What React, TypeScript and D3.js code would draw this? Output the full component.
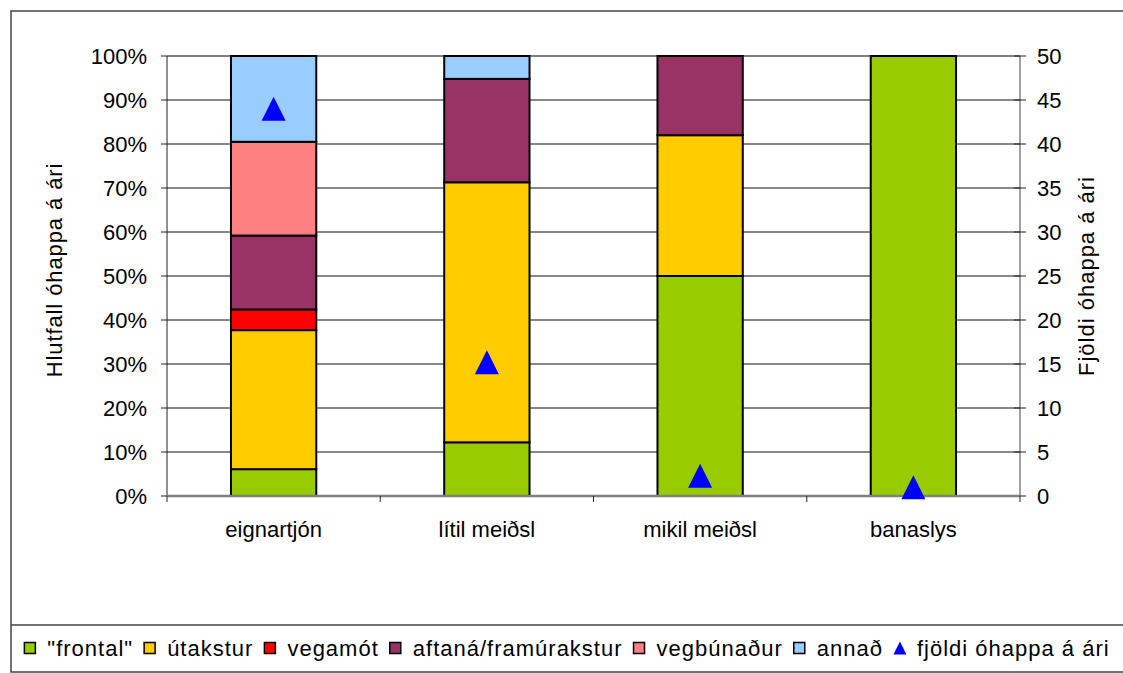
import React, { useRef, useEffect } from 'react';
import { select, scaleLinear, scaleBand, stack, symbol } from 'd3';

const categories = ['eignartjón', 'lítil meiðsl', 'mikil meiðsl', 'banaslys'];
const seriesNames = ['"frontal"', 'útakstur', 'vegamót', 'aftaná/framúrakstur', 'vegbúnaður', 'annað'];
const seriesColors = ['#99CC00', '#FFCC00', '#FF0000', '#993366', '#FF8080', '#99CCFF'];

// percentages per category
const frontal = [6.1, 12.2, 50, 100];
const utakstur = [31.6, 59.1, 32, 0];
const vegamot = [4.7, 0, 0, 0];
const aftana = [16.8, 23.5, 18, 0];
const vegbunadur = [21.3, 0, 0, 0];
const annad = [19.5, 5.2, 0, 0];

// count per year, right axis
const countName = 'fjöldi óhappa á ári';
const fjoldi = [44, 15.2, 2.3, 1];

const pctTicks = [0, 10, 20, 30, 40, 50, 60, 70, 80, 90, 100];
const countTicks = [0, 5, 10, 15, 20, 25, 30, 35, 40, 45, 50];

const leftTitle = 'Hlutfall óhappa á ári';
const rightTitle = 'Fjöldi óhappa á ári';

const FONT = '"Liberation Sans", Arial, sans-serif';

// triangle, as wide as it is tall
const triangleUp = {
  draw(ctx, size) {
    const w = Math.sqrt(size);
    ctx.moveTo(0, -w / 2);
    ctx.lineTo(w / 2, w / 2);
    ctx.lineTo(-w / 2, w / 2);
    ctx.closePath();
  }
};

const App = () => {
  const ref = useRef<SVGSVGElement>(null);

  const width = 1123;
  const height = 673;
  const plot = { left: 167, right: 1020, top: 56, bottom: 496 };

  useEffect(() => {
    const svg = select(ref.current);
    svg.selectAll('*').remove();

    const seriesValues = [frontal, utakstur, vegamot, aftana, vegbunadur, annad];
    const rows = categories.map((c, i) => {
      const r: any = { cat: c };
      seriesNames.forEach((s, j) => (r[s] = seriesValues[j][i]));
      return r;
    });
    const stacked = stack().keys(seriesNames)(rows);

    const xScale = scaleBand()
      .domain(categories)
      .range([plot.left, plot.right])
      .paddingInner(0.6)
      .paddingOuter(0.3);
    const yPct = scaleLinear().domain([0, 100]).range([plot.bottom, plot.top]);
    const yCnt = scaleLinear().domain([0, 50]).range([plot.bottom, plot.top]);

    // frame
    svg.append('rect')
      .attr('x', 11).attr('y', 11)
      .attr('width', 1130).attr('height', 661)
      .attr('fill', 'none').attr('stroke', '#444').attr('stroke-width', 1.5);
    svg.append('line')
      .attr('x1', 11).attr('x2', 1130).attr('y1', 625).attr('y2', 625)
      .attr('stroke', '#444').attr('stroke-width', 1.5);

    // gridlines
    svg.append('g').selectAll('line')
      .data(pctTicks.filter(t => t > 0))
      .enter().append('line')
      .attr('x1', plot.left).attr('x2', plot.right)
      .attr('y1', d => yPct(d)).attr('y2', d => yPct(d))
      .attr('stroke', d => (d === 100 ? '#808080' : '#111'))
      .attr('stroke-width', d => (d === 100 ? 2 : 1));

    // left axis
    svg.append('line')
      .attr('x1', plot.left).attr('x2', plot.left)
      .attr('y1', plot.top).attr('y2', plot.bottom)
      .attr('stroke', '#222');
    const gl = svg.append('g');
    gl.selectAll('line').data(pctTicks).enter().append('line')
      .attr('x1', plot.left - 6).attr('x2', plot.left)
      .attr('y1', d => yPct(d)).attr('y2', d => yPct(d))
      .attr('stroke', '#222');
    gl.selectAll('text').data(pctTicks).enter().append('text')
      .attr('x', 147).attr('y', d => yPct(d))
      .attr('dy', '0.35em')
      .attr('text-anchor', 'end')
      .style('font', `22px ${FONT}`)
      .text(d => `${d}%`);

    // right axis
    svg.append('line')
      .attr('x1', plot.right).attr('x2', plot.right)
      .attr('y1', plot.top).attr('y2', plot.bottom)
      .attr('stroke', '#444');
    const gr = svg.append('g');
    gr.selectAll('line').data(countTicks).enter().append('line')
      .attr('x1', plot.right - 6).attr('x2', plot.right + 6)
      .attr('y1', d => yCnt(d)).attr('y2', d => yCnt(d))
      .attr('stroke', '#222');
    gr.selectAll('text').data(countTicks).enter().append('text')
      .attr('x', 1037).attr('y', d => yCnt(d))
      .attr('dy', '0.35em')
      .style('font', `22px ${FONT}`)
      .text(d => d);

    // bars
    const gb = svg.append('g');
    stacked.forEach((layer, j) => {
      gb.selectAll(null)
        .data(layer.filter(d => d[1] - d[0] > 0))
        .enter().append('rect')
        .attr('x', d => xScale(d.data.cat))
        .attr('width', xScale.bandwidth())
        .attr('y', d => yPct(d[1]))
        .attr('height', d => yPct(d[0]) - yPct(d[1]))
        .attr('fill', seriesColors[j])
        .attr('stroke', '#000')
        .attr('stroke-width', 2);
    });

    // x axis
    svg.append('line')
      .attr('x1', plot.left).attr('x2', plot.right)
      .attr('y1', plot.bottom).attr('y2', plot.bottom)
      .attr('stroke', '#808080').attr('stroke-width', 2.5);
    const step = xScale.step();
    svg.append('g').selectAll('line')
      .data([0, 1, 2, 3, 4])
      .enter().append('line')
      .attr('x1', i => plot.left + i * step).attr('x2', i => plot.left + i * step)
      .attr('y1', plot.bottom).attr('y2', plot.bottom + 6)
      .attr('stroke', '#222');
    svg.append('g').selectAll('text')
      .data(categories)
      .enter().append('text')
      .attr('x', d => xScale(d) + xScale.bandwidth() / 2)
      .attr('y', 537)
      .attr('text-anchor', 'middle')
      .style('font', `22px ${FONT}`)
      .text(d => d);

    // count markers
    const tri = symbol(triangleUp as any, 24 * 24);
    svg.append('g').selectAll('path')
      .data(fjoldi)
      .enter().append('path')
      .attr('d', tri())
      .attr('transform', (d, i) =>
        `translate(${xScale(categories[i]) + xScale.bandwidth() / 2}, ${yCnt(d)})`)
      .attr('fill', '#0000FF');

    // axis titles
    svg.append('text')
      .attr('transform', 'translate(62, 270) rotate(-90)')
      .attr('text-anchor', 'middle')
      .style('font', `22px ${FONT}`)
      .style('letter-spacing', '0.9px')
      .text(leftTitle);
    svg.append('text')
      .attr('transform', 'translate(1094, 276) rotate(-90)')
      .attr('text-anchor', 'middle')
      .style('font', `22px ${FONT}`)
      .style('letter-spacing', '1px')
      .text(rightTitle);

    // legend
    const legendItems = seriesNames.map((n, j) => ({ name: n, color: seriesColors[j], tri: false }))
      .concat([{ name: countName, color: '#0000FF', tri: true }]);
    const gLeg = svg.append('g');
    const items = legendItems.map(item => {
      const g = gLeg.append('g');
      if (item.tri) {
        g.append('path')
          .attr('d', symbol(triangleUp as any, 13 * 13)())
          .attr('transform', 'translate(6, 648)')
          .attr('fill', item.color);
      } else {
        g.append('rect')
          .attr('x', 0).attr('y', 642.5)
          .attr('width', 11).attr('height', 11)
          .attr('fill', item.color)
          .attr('stroke', '#000').attr('stroke-width', 1.5);
      }
      const t = g.append('text')
        .attr('x', 23).attr('y', 655.5)
        .style('font', `22px ${FONT}`)
        .style('letter-spacing', '1px')
        .text(item.name);
      const w = (t.node() as SVGTextElement).getComputedTextLength();
      return { g, w };
    });
    const total = items.reduce((s, it) => s + 23 + it.w + 11, 0) - 11;
    let cursor = 567 - total / 2;
    items.forEach(it => {
      it.g.attr('transform', `translate(${cursor}, 0)`);
      cursor += 23 + it.w + 11;
    });
  }, []);

  return (
    <div style={{ position: 'absolute', left: 0, top: 0 }}>
      <svg ref={ref} width={width} height={height} style={{ display: 'block', background: '#fff' }}></svg>
    </div>
  );
};

export default App;
